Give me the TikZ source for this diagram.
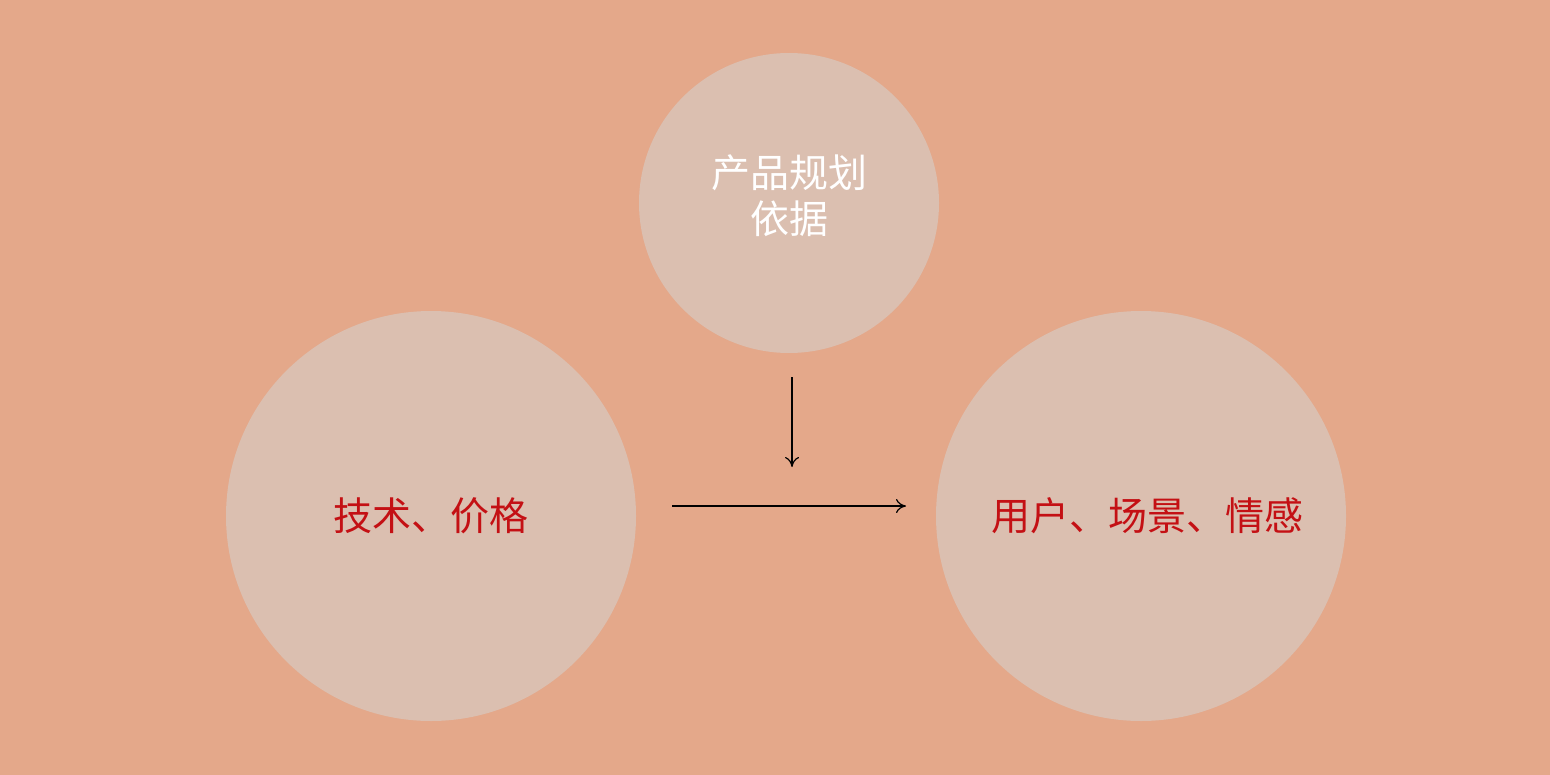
\documentclass[tikz,border=0pt]{standalone}
\usepackage{fontspec}
\newfontfamily\cjk{Noto Sans CJK SC}
\usetikzlibrary{arrows.meta}
\definecolor{bgc}{RGB}{228,168,138}
\definecolor{circc}{RGB}{219,191,176}
\definecolor{redt}{RGB}{196,16,20}
\tikzset{
  disc/.style={circle, fill=circc, draw=none, inner sep=0pt},
  lbl/.style={font=\cjk\fontsize{19.5pt}{23pt}\selectfont, align=center},
  conn/.style={draw=black, line width=0.6pt, -{To[length=5pt,width=7pt]}}
}
\begin{document}
\begin{tikzpicture}[x=0.5pt,y=-0.5pt]
\fill[bgc] (0,0) rectangle (1550,775);
\useasboundingbox (0,0) rectangle (1550,775);
\node[disc, minimum size=150pt] (top) at (789,203) {};
\node[disc, minimum size=205pt] (left) at (431,516) {};
\node[disc, minimum size=205pt] (right) at (1141,516) {};
\node[lbl, text=white] (toptext) at (789,196) {产品规划\\依据};
\node[lbl, text=redt] (lefttext) at (431,516) {技术、价格};
\node[lbl, text=redt] (righttext) at (1147,516) {用户、场景、情感};
\coordinate (vs) at (792,377);
\coordinate (ve) at (792,467);
\coordinate (hs) at (672,506);
\coordinate (he) at (906,506);
\draw[conn] (vs) -- (ve);
\draw[conn] (hs) -- (he);
\end{tikzpicture}
\end{document}
